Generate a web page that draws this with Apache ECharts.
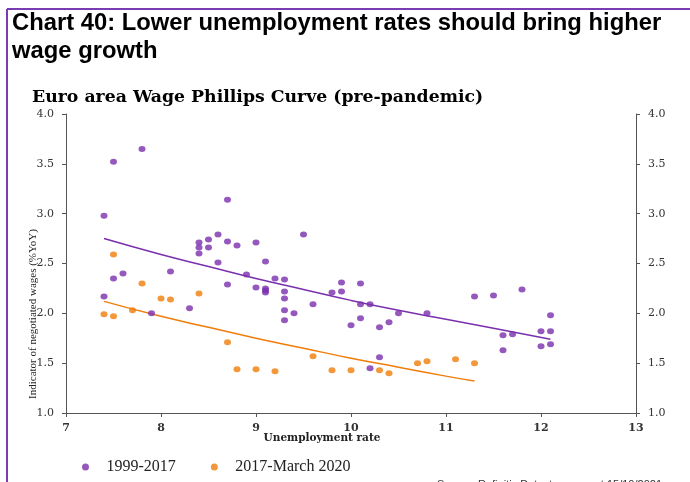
<!DOCTYPE html>
<html>
<head>
<meta charset="utf-8">
<script src="https://cdn.jsdelivr.net/npm/echarts@6/dist/echarts.min.js"></script>
<style>
  html, body { margin: 0; padding: 0; background: #fff; }
  #chart { width: 690px; height: 482px; }
</style>
</head>
<body>
<div id="chart"></div>
<script>
// Unemployment rate (%) vs negotiated wage growth (%YoY)
const period1Name = '1999-2017';
const period1 = [
  [7.4, 2.98], [7.4, 2.17], [7.5, 3.52], [7.5, 2.35], [7.6, 2.40], [7.8, 3.65],
  [7.9, 2.00], [8.1, 2.42], [8.3, 2.05], [8.4, 2.71], [8.4, 2.66], [8.4, 2.60],
  [8.5, 2.74], [8.5, 2.66], [8.6, 2.79], [8.6, 2.51], [8.7, 3.14], [8.7, 2.72],
  [8.7, 2.29], [8.8, 2.68], [8.9, 2.39], [9.0, 2.71], [9.0, 2.26], [9.1, 2.52],
  [9.1, 2.25], [9.1, 2.23], [9.1, 2.21], [9.2, 2.35], [9.3, 2.34], [9.3, 2.22],
  [9.3, 2.15], [9.3, 2.03], [9.3, 1.93], [9.4, 2.00], [9.5, 2.79], [9.6, 2.09],
  [9.8, 2.21], [9.9, 2.31], [9.9, 2.22], [10.0, 1.88], [10.1, 2.30], [10.1, 2.09],
  [10.1, 1.95], [10.2, 2.09], [10.2, 1.45], [10.3, 1.86], [10.3, 1.56], [10.4, 1.91],
  [10.5, 2.00], [10.8, 2.00], [11.3, 2.17], [11.5, 2.18], [11.6, 1.78], [11.6, 1.63],
  [11.7, 1.79], [11.8, 2.24], [12.0, 1.82], [12.0, 1.67], [12.1, 1.98], [12.1, 1.82],
  [12.1, 1.69]
];

const period2Name = '2017-March 2020';
const period2 = [
  [7.4, 1.99], [7.5, 2.59], [7.5, 1.97], [7.7, 2.03], [7.8, 2.30], [8.0, 2.15],
  [8.1, 2.14], [8.4, 2.20], [8.7, 1.71], [8.8, 1.44], [9.0, 1.44], [9.2, 1.42],
  [9.6, 1.57], [9.8, 1.43], [10.0, 1.43], [10.3, 1.43], [10.4, 1.40], [10.7, 1.50],
  [10.8, 1.52], [11.1, 1.54], [11.3, 1.50]
];

// Fitted (log) trend curves
const period1Fit = [
  [7.4, 2.75], [8.0, 2.59], [8.5, 2.47], [9.0, 2.35], [9.5, 2.24],
  [10.0, 2.13], [10.5, 2.03], [11.0, 1.94], [11.5, 1.85], [12.1, 1.74]
];
const period2Fit = [
  [7.4, 2.12], [8.0, 1.97], [8.5, 1.86], [9.0, 1.75], [9.5, 1.65],
  [10.0, 1.55], [10.5, 1.46], [11.0, 1.37], [11.3, 1.32]
];

const yTicks = [1.0, 1.5, 2.0, 2.5, 3.0, 3.5, 4.0];
const xTicks = [7, 8, 9, 10, 11, 12, 13];

const purple = '#7a2fae';
const orange = '#f07d0a';
const frame = '#7b3bb3';
const axisColor = '#555';
const serif = '"DejaVu Serif", "Liberation Serif", serif';

const chart = echarts.init(document.getElementById('chart'), null, { renderer: 'canvas' });

const yAxisBase = (pos) => ({
  type: 'value',
  position: pos,
  min: yTicks[0],
  max: yTicks[yTicks.length - 1],
  interval: 0.5,
  splitLine: { show: false },
  axisLine: { show: true, lineStyle: { color: axisColor, width: 1 } },
  axisTick: { show: true, length: 4, lineStyle: { color: axisColor } },
  axisLabel: {
    formatter: v => v.toFixed(1),
    fontFamily: serif, fontSize: 11, color: '#333', margin: 12
  }
});

chart.setOption({
  animation: false,
  backgroundColor: '#fff',
  grid: { left: 66, right: 54, top: 114, bottom: 69, containLabel: false },
  xAxis: {
    type: 'value',
    min: xTicks[0],
    max: xTicks[xTicks.length - 1],
    interval: 1,
    splitLine: { show: false },
    axisLine: { show: true, onZero: false, lineStyle: { color: axisColor, width: 1 } },
    axisTick: { show: true, length: 4, lineStyle: { color: axisColor } },
    axisLabel: { fontFamily: serif, fontSize: 11, fontWeight: 'bold', color: '#333', margin: 10 }
  },
  yAxis: [yAxisBase('left'), yAxisBase('right')],
  legend: {
    data: [period1Name, period2Name],
    left: 77, top: 454,
    icon: 'circle', itemWidth: 32, itemHeight: 7, itemGap: 35,
    symbolKeepAspect: true,
    textStyle: { fontFamily: '"Liberation Serif", serif', fontSize: 16, color: '#222' }
  },
  graphic: [
    { type: 'line', shape: { x1: 7, y1: 9, x2: 690, y2: 9 }, style: { stroke: frame, lineWidth: 2 } },
    { type: 'line', shape: { x1: 7, y1: 9, x2: 7, y2: 482 }, style: { stroke: frame, lineWidth: 2 } },
    {
      type: 'text', left: 12, top: 9,
      style: {
        text: 'Chart 40: Lower unemployment rates should bring higher\nwage growth',
        font: 'bold 23.8px "Liberation Sans", Arial, sans-serif',
        lineHeight: 28, fill: '#000'
      }
    },
    {
      type: 'text', left: 32, top: 89,
      style: {
        text: 'Euro area Wage Phillips Curve (pre-pandemic)',
        font: 'bold 17.3px "DejaVu Serif", serif', fill: '#000'
      }
    },
    {
      type: 'text', x: 33, y: 314, rotation: Math.PI / 2,
      style: {
        text: 'Indicator of negotiated wages (%YoY)',
        font: '11px "Liberation Serif", serif', fill: '#222',
        align: 'center', verticalAlign: 'middle'
      }
    },
    {
      type: 'text', x: 322, y: 438,
      style: {
        text: 'Unemployment rate',
        font: 'bold 10.5px "DejaVu Serif", serif', fill: '#222',
        align: 'center', verticalAlign: 'middle'
      }
    },
    {
      type: 'text', x: 437, y: 479,
      style: {
        text: 'Source: Refinitiv Datastream as at 15/10/2021',
        font: '11px "Liberation Sans", Arial, sans-serif', fill: '#333'
      }
    }
  ],
  series: [
    {
      name: period1Name, type: 'scatter', yAxisIndex: 0,
      data: period1, symbol: 'circle', symbolSize: [7, 6],
      itemStyle: { color: purple }
    },
    {
      name: period2Name, type: 'scatter', yAxisIndex: 0,
      data: period2, symbol: 'circle', symbolSize: [7, 6],
      itemStyle: { color: orange }
    },
    {
      name: period1Name + ' fit', type: 'line', yAxisIndex: 0,
      data: period1Fit, smooth: true, showSymbol: false, symbol: 'none',
      lineStyle: { color: purple, width: 1.5 }, z: 1
    },
    {
      name: period2Name + ' fit', type: 'line', yAxisIndex: 0,
      data: period2Fit, smooth: true, showSymbol: false, symbol: 'none',
      lineStyle: { color: orange, width: 1.5 }, z: 1
    },
    {
      type: 'line', yAxisIndex: 1, data: [], silent: true
    }
  ]
});
</script>
</body>
</html>
